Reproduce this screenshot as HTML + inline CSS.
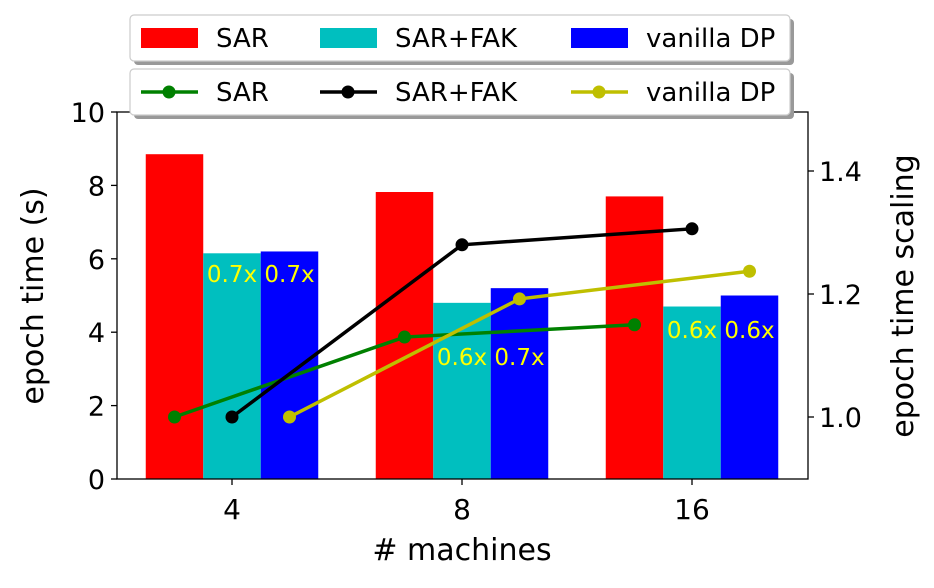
<!DOCTYPE html>
<html><head><meta charset="utf-8"><style>
body{margin:0;background:#fff;width:934px;height:583px;overflow:hidden}
svg{font-family:"DejaVu Sans","Liberation Sans",sans-serif}
</style></head><body>
<svg id="c" width="934" height="583"></svg>
<script>
const categories=["4","8","16"];
const sarTime=[8.85,7.82,7.7];
const fakTime=[6.15,4.8,4.7];
const dpTime=[6.2,5.2,5.0];
const sarScale=[1.0,1.13,1.15];
const fakScale=[1.0,1.28,1.306];
const dpScale=[1.0,1.192,1.237];
const fakLabels=["0.7x","0.6x","0.6x"];
const dpLabels=["0.7x","0.7x","0.6x"];
const leftTicks=[0,2,4,6,8,10];
const rightTicks=[1.0,1.2,1.4];

const NS="http://www.w3.org/2000/svg";
const svg=document.getElementById('c');
function mk(t,a,p){const e=document.createElementNS(NS,t);for(const k in a)e.setAttribute(k,a[k]);(p||svg).appendChild(e);return e;}
const X0=117,X1=808,Y0=479,Y1=112;
const yL=v=>Y0-(v/10)*(Y0-Y1);
const yR=v=>417-(v-1.0)*615;
const gx=i=>232+i*230;
const BW=57.5;

const series=[[sarTime,'#ff0000','bar-sar'],[fakTime,'#00bfbf','bar-sar-fak'],[dpTime,'#0000ff','bar-vanilla-dp']];
series.forEach((s,si)=>{
  s[0].forEach((v,i)=>{
    const x=gx(i)+(si-1)*BW-BW/2;
    const r=mk('rect',{x:x,y:yL(v),width:BW,height:Y0-yL(v),fill:s[1]});
    
    
  });
});
const labY=[282,365,338];
categories.forEach((c,i)=>{
  [[fakLabels,0],[dpLabels,1]].forEach(([arr,k])=>{
    const t=mk('text',{x:gx(i)+k*BW,y:labY[i],'text-anchor':'middle','font-size':23,fill:'#ffff00'});
    t.textContent=arr[i];
    
    
  });
});
const lines=[[sarScale,'#008000',-1,'line-sar'],[fakScale,'#000000',0,'line-sar-fak'],[dpScale,'#bfbf00',1,'line-vanilla-dp']];
lines.forEach(l=>{
  const pts=l[0].map((v,i)=>[gx(i)+l[2]*BW,yR(v)]);
  const p=mk('polyline',{points:pts.map(q=>q.join(',')).join(' '),fill:'none',stroke:l[1],'stroke-width':3.5});
  
  
  pts.forEach(q=>{const c=mk('circle',{cx:q[0],cy:q[1],r:6.5,fill:l[1]});
    
    });
});
const f=mk('rect',{x:X0,y:Y1,width:X1-X0,height:Y0-Y1,fill:'none',stroke:'#000','stroke-width':1.3});

leftTicks.forEach(v=>{mk('line',{x1:X0-6,x2:X0,y1:yL(v),y2:yL(v),stroke:'#000','stroke-width':1.3});
  const t=mk('text',{x:X0-12,y:yL(v)+10,'text-anchor':'end','font-size':27});t.textContent=v;
  });
rightTicks.forEach(v=>{mk('line',{x1:X1,x2:X1+6,y1:yR(v),y2:yR(v),stroke:'#000','stroke-width':1.3});
  const t=mk('text',{x:X1+11,y:yR(v)+10,'font-size':27});t.textContent=v.toFixed(1);
  });
categories.forEach((c,i)=>{mk('line',{x1:gx(i),x2:gx(i),y1:Y0,y2:Y0+6,stroke:'#000','stroke-width':1.3});
  const t=mk('text',{x:gx(i),y:Y0+40,'text-anchor':'middle','font-size':28});t.textContent=c;
  });
let t=mk('text',{x:462,y:560,'text-anchor':'middle','font-size':30});t.textContent='# machines';

t=mk('text',{x:0,y:0,'text-anchor':'middle','font-size':30,transform:'translate(43,296) rotate(-90)'});t.textContent='epoch time (s)';

t=mk('text',{x:0,y:0,'text-anchor':'middle','font-size':30,transform:'translate(913,296) rotate(-90)'});t.textContent='epoch time scaling';

function legend(y,name,items,isLine){
  const g=mk('g',{});
  
  mk('rect',{x:134,y:y+4,width:660,height:46,rx:4,fill:'#999'},g);
  mk('rect',{x:130,y:y,width:660,height:46,rx:4,fill:'#fff',stroke:'#ccc','stroke-width':1.2},g);
  const xs=[141,320,571];
  items.forEach((it,i)=>{
    const cy=y+23;
    if(isLine){mk('line',{x1:xs[i],x2:xs[i]+57,y1:cy,y2:cy,stroke:it[1],'stroke-width':3.5},g);
      mk('circle',{cx:xs[i]+28,cy:cy,r:6.5,fill:it[1]},g);}
    else mk('rect',{x:xs[i],y:cy-10,width:57,height:20,fill:it[1]},g);
    const tt=mk('text',{x:xs[i]+75,y:cy+9,'font-size':26},g);tt.textContent=it[0];
    
  });
}
legend(15,'bar-legend',[['SAR','#ff0000'],['SAR+FAK','#00bfbf'],['vanilla DP','#0000ff']],false);
legend(69,'line-legend',[['SAR','#008000'],['SAR+FAK','#000000'],['vanilla DP','#bfbf00']],true);
</script>
</body></html>
